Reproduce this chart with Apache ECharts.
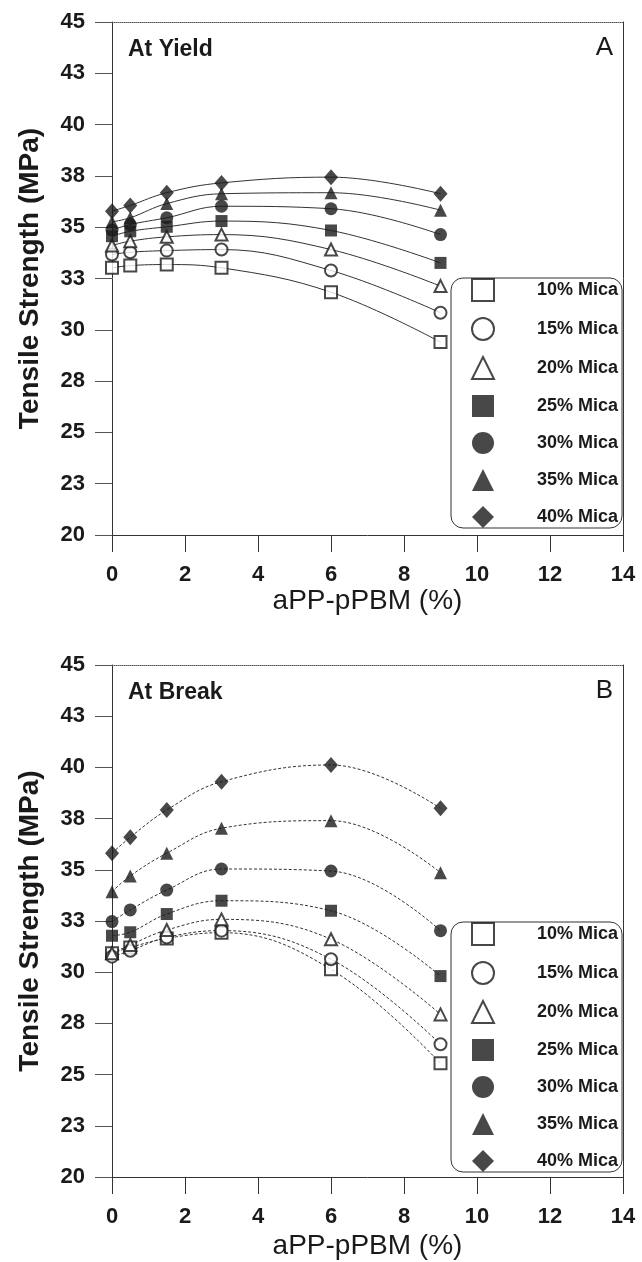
<!DOCTYPE html>
<html>
<head>
<meta charset="utf-8">
<script src="https://cdn.jsdelivr.net/npm/echarts@6/dist/echarts.min.js"></script>
<style>
html,body{margin:0;padding:0;background:#fff;}
#chart{width:642px;height:1262px;}
</style>
</head>
<body>
<div id="chart"></div>
<script>
// ---- data ----
const xValues = [0, 0.5, 1.5, 3, 6, 9];
const seriesNames = ['10% Mica', '15% Mica', '20% Mica', '25% Mica', '30% Mica', '35% Mica', '40% Mica'];
const yTickLabels = ['20', '23', '25', '28', '30', '33', '35', '38', '40', '43', '45'];
const xTickLabels = ['0', '2', '4', '6', '8', '10', '12', '14'];

// Panel A: at yield
const yield10 = [33.02, 33.13, 33.18, 33.02, 31.83, 29.40];
const yield15 = [33.67, 33.78, 33.86, 33.91, 32.89, 30.83];
const yield20 = [34.11, 34.32, 34.53, 34.64, 33.91, 32.13];
const yield25 = [34.56, 34.80, 35.02, 35.30, 34.84, 33.26];
const yield30 = [34.86, 35.13, 35.46, 36.02, 35.90, 34.64];
const yield35 = [35.26, 35.46, 36.15, 36.63, 36.68, 35.83];
const yield40 = [35.78, 36.06, 36.68, 37.16, 37.44, 36.63];

// Panel B: at break
const break10 = [30.92, 31.21, 31.65, 31.93, 30.14, 25.55];
const break15 = [30.76, 31.05, 31.70, 32.03, 30.63, 26.48];
const break20 = [30.92, 31.33, 32.06, 32.58, 31.61, 27.94];
const break25 = [31.78, 31.95, 32.84, 33.49, 33.00, 29.81];
const break30 = [32.47, 33.04, 34.01, 35.04, 34.94, 32.03];
const break35 = [33.93, 34.70, 35.81, 37.03, 37.40, 34.86];
const break40 = [35.81, 36.59, 37.92, 39.30, 40.12, 38.00];

const yieldData = [yield10, yield15, yield20, yield25, yield30, yield35, yield40];
const breakData = [break10, break15, break20, break25, break30, break35, break40];

// ---- styling ----
const FONT = '"Liberation Sans", Arial, sans-serif';
const INK = '#1a1a1a';
const symbols = ['emptyRect', 'emptyCircle', 'emptyTriangle', 'rect', 'circle', 'triangle', 'diamond'];
const symbolSizes = [12, 12, 12, 12, 13, 13, [14, 16]];

function yLabel(v) {
  const idx = Math.round((v - 20) / 2.5);
  return yTickLabels[idx] !== undefined ? yTickLabels[idx] : '';
}
function xLabel(v) {
  const idx = Math.round(v / 2);
  return xTickLabels[idx] !== undefined ? xTickLabels[idx] : '';
}

const grids = [
  {left: 112, top: 22, width: 511, height: 513},
  {left: 112, top: 665, width: 511, height: 512}
];

const xAxes = [];
const yAxes = [];
[0, 1].forEach(function (g) {
  xAxes.push({
    gridIndex: g, type: 'value', min: 0, max: 14, interval: 2, position: 'bottom',
    name: 'aPP-pPBM (%)', nameLocation: 'middle', nameGap: g === 0 ? 48 : 55,
    nameTextStyle: {fontFamily: FONT, fontSize: 28, color: INK, fontWeight: 'normal'},
    axisLine: {show: true, onZero: false, lineStyle: {color: '#333', width: 1}},
    axisTick: {show: true, inside: false, length: 17, lineStyle: {color: '#333', width: 1}},
    axisLabel: {show: true, margin: 29, fontFamily: FONT, fontSize: 22, fontWeight: 'bold', color: INK, formatter: xLabel},
    splitLine: {show: false}
  });
  xAxes.push({
    gridIndex: g, type: 'value', min: 0, max: 14, interval: 2, position: 'top',
    axisLine: {show: true, onZero: false, lineStyle: {color: '#555', width: 1, type: 'dotted'}},
    axisTick: {show: false}, axisLabel: {show: false}, splitLine: {show: false}
  });
  yAxes.push({
    gridIndex: g, type: 'value', min: 20, max: 45, interval: 2.5, position: 'left',
    name: 'Tensile Strength (MPa)', nameLocation: 'middle', nameGap: 68,
    nameTextStyle: {fontFamily: FONT, fontSize: 28, color: INK, fontWeight: 'bold'},
    axisLine: {show: true, onZero: false, lineStyle: {color: '#333', width: 1}},
    axisTick: {show: true, inside: false, length: 17, lineStyle: {color: '#555', width: 1}},
    axisLabel: {show: true, margin: 27, fontFamily: FONT, fontSize: 22, fontWeight: 'bold', color: INK, formatter: yLabel},
    splitLine: {show: false}
  });
  yAxes.push({
    gridIndex: g, type: 'value', min: 20, max: 45, interval: 2.5, position: 'right',
    axisLine: {show: true, onZero: false, lineStyle: {color: '#333', width: 1}},
    axisTick: {show: false}, axisLabel: {show: false}, splitLine: {show: false}
  });
});

const series = [];
function addPanel(dataSets, g, dashed) {
  dataSets.forEach(function (vals, i) {
    const pts = xValues.map(function (x, k) { return [x, vals[k]]; });
    series.push({
      type: 'line', name: seriesNames[i] + ' curve' + g,
      xAxisIndex: g * 2, yAxisIndex: g * 2,
      data: pts, smooth: 0.4, symbol: 'none', silent: true, z: 2,
      lineStyle: {color: '#333', width: 1, type: dashed ? [3, 2] : 'solid'}
    });
    const empty = symbols[i].indexOf('empty') === 0;
    series.push({
      type: 'scatter', name: seriesNames[i],
      xAxisIndex: g * 2, yAxisIndex: g * 2,
      data: pts, symbol: symbols[i], symbolSize: symbolSizes[i], z: 3,
      itemStyle: empty ? {color: INK, borderColor: INK, borderWidth: 1} : {color: INK, borderWidth: 0}
    });
  });
}
addPanel(yieldData, 0, false);
addPanel(breakData, 1, true);

function makeLegend(top) {
  return {
    orient: 'vertical', left: 451, top: top,
    data: seriesNames.map(function (n, i) { return {name: n, icon: symbols[i]}; }),
    itemWidth: 22, itemHeight: 22, itemGap: 15,
    padding: [0, 4, 0, 20],
    borderColor: '#333', borderWidth: 1, borderRadius: 12,
    backgroundColor: '#fff',
    selectedMode: false,
    textStyle: {fontFamily: FONT, fontSize: 18, fontWeight: 'bold', color: INK, padding: [0, 0, 0, 38], width: 84}
  };
}

const option = {
  animation: false,
  backgroundColor: '#fff',
  grid: grids,
  xAxis: xAxes,
  yAxis: yAxes,
  title: [
    {text: 'At Yield', left: 128, top: 38, padding: 0, textStyle: {fontFamily: FONT, fontSize: 23, fontWeight: 'bold', color: INK}},
    {text: 'A', right: 29, top: 35, padding: 0, textStyle: {fontFamily: FONT, fontSize: 26, fontWeight: 'normal', color: INK}},
    {text: 'At Break', left: 128, top: 681, padding: 0, textStyle: {fontFamily: FONT, fontSize: 23, fontWeight: 'bold', color: INK}},
    {text: 'B', right: 29, top: 678, padding: 0, textStyle: {fontFamily: FONT, fontSize: 26, fontWeight: 'normal', color: INK}}
  ],
  legend: [makeLegend(278), makeLegend(922)],
  series: series
};

const chart = echarts.init(document.getElementById('chart'), null, {renderer: 'canvas'});
chart.setOption(option);
</script>
</body>
</html>
